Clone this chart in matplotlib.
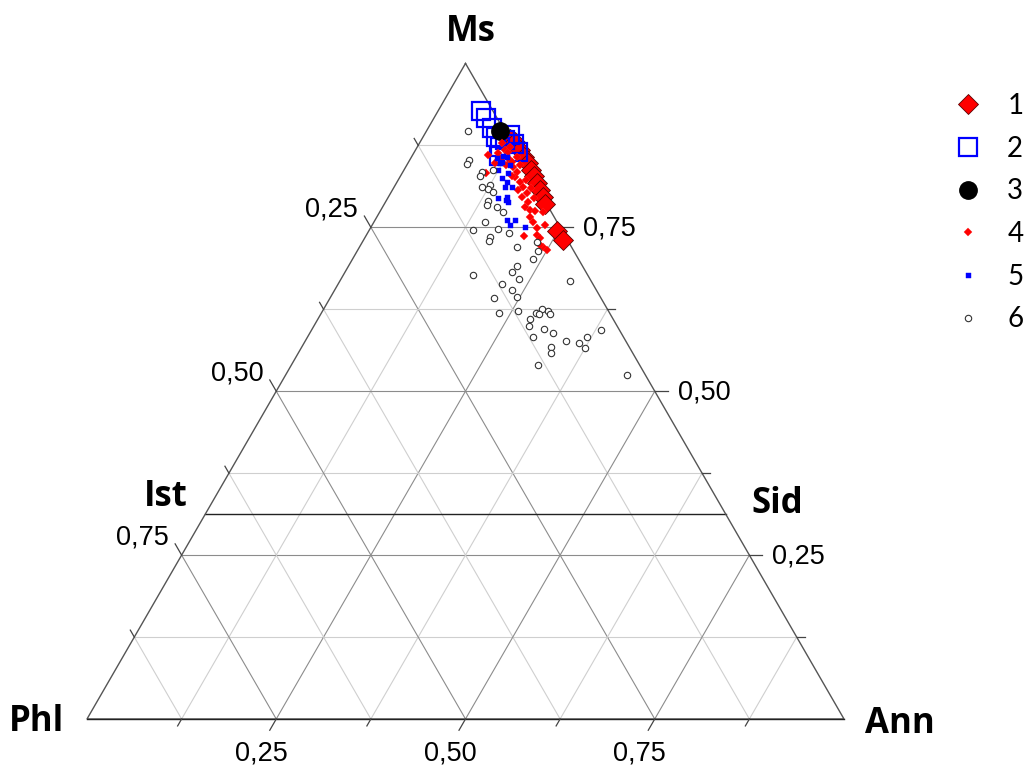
import numpy as np
import matplotlib.pyplot as plt

# fractions: Ms (top apex) and Ann (bottom right apex); Phl = 1 - Ms - Ann
ms1 = [0.885, 0.880, 0.868, 0.857, 0.848, 0.837, 0.828, 0.818, 0.807, 0.796, 0.786, 0.744, 0.731]
ann1 = [0.116, 0.125, 0.138, 0.149, 0.159, 0.168, 0.176, 0.185, 0.195, 0.204, 0.212, 0.249, 0.263]

ms2 = [0.927, 0.917, 0.901, 0.888, 0.872, 0.883, 0.891, 0.877, 0.865, 0.859]
ann2 = [0.057, 0.069, 0.085, 0.096, 0.110, 0.111, 0.113, 0.126, 0.137, 0.115]

ms3 = [0.897]
ann3 = [0.097]

ms4 = [0.860, 0.833, 0.856, 0.868, 0.853, 0.842, 0.834, 0.819, 0.811, 0.802, 0.789,
       0.776, 0.758, 0.737, 0.738, 0.734, 0.720, 0.715, 0.754, 0.827, 0.807, 0.796,
       0.781, 0.766, 0.775, 0.773, 0.723, 0.879, 0.865, 0.850, 0.857, 0.863, 0.872,
       0.845, 0.828, 0.822, 0.810, 0.795, 0.749, 0.845, 0.848]
ann4 = [0.100, 0.111, 0.120, 0.118, 0.132, 0.142, 0.151, 0.162, 0.170, 0.180, 0.188,
        0.197, 0.210, 0.209, 0.225, 0.231, 0.242, 0.250, 0.228, 0.152, 0.166, 0.177,
        0.188, 0.202, 0.204, 0.216, 0.237, 0.109, 0.124, 0.136, 0.140, 0.111, 0.123,
        0.131, 0.147, 0.169, 0.182, 0.193, 0.220, 0.150, 0.115]

ms5 = [0.837, 0.825, 0.819, 0.811, 0.811, 0.796, 0.789, 0.761, 0.754, 0.761,
       0.750, 0.850, 0.857, 0.845, 0.856, 0.795, 0.792, 0.833, 0.859, 0.848]
ann5 = [0.125, 0.136, 0.145, 0.147, 0.156, 0.157, 0.162, 0.174, 0.182, 0.185,
        0.204, 0.123, 0.126, 0.136, 0.114, 0.145, 0.158, 0.140, 0.120, 0.122]

ms6 = [0.897, 0.853, 0.847, 0.834, 0.837, 0.828, 0.811, 0.815, 0.808, 0.804, 0.790,
       0.784, 0.781, 0.773, 0.758, 0.746, 0.747, 0.741, 0.735, 0.729, 0.720, 0.728,
       0.714, 0.702, 0.691, 0.682, 0.671, 0.677, 0.664, 0.654, 0.644, 0.642, 0.668,
       0.619, 0.622, 0.619, 0.625, 0.622, 0.618, 0.618, 0.610, 0.599, 0.595, 0.589,
       0.583, 0.577, 0.574, 0.583, 0.566, 0.567, 0.558, 0.593, 0.540, 0.525]
ann6 = [0.055, 0.078, 0.079, 0.105, 0.118, 0.105, 0.116, 0.125, 0.126, 0.134, 0.135,
        0.136, 0.151, 0.163, 0.147, 0.137, 0.170, 0.187, 0.165, 0.166, 0.208, 0.230,
        0.239, 0.238, 0.223, 0.220, 0.235, 0.171, 0.216, 0.234, 0.246, 0.217, 0.304,
        0.235, 0.258, 0.284, 0.289, 0.298, 0.303, 0.288, 0.280, 0.285, 0.306, 0.321,
        0.298, 0.344, 0.363, 0.369, 0.375, 0.330, 0.334, 0.383, 0.326, 0.451]

ms_ist_sid = 0.3125
ticks = [0.125, 0.25, 0.375, 0.5, 0.625, 0.75, 0.875]
major = [0.25, 0.5, 0.75]
tick_text = {0.25: '0,25', 0.5: '0,50', 0.75: '0,75'}

H = np.sqrt(3) / 2
PX = 1 / 757.0  # one pixel in data units


def to_xy(ms, ann):
    ms = np.asarray(ms, dtype=float)
    ann = np.asarray(ann, dtype=float)
    return ann + ms / 2, ms * H


fig = plt.figure(figsize=(10.32, 7.71), dpi=100)
ax = fig.add_axes([0, 0, 1, 1])
ax.set_xlim(-87 * PX, (1032 - 87) * PX)
ax.set_ylim(-(771 - 719) * PX, 719 * PX)
ax.axis('off')

# grid
for v in ticks:
    col = '#8c8c8c' if v in major else '#cfcfcf'
    # Ms constant
    x, y = to_xy([v, v], [0, 1 - v])
    ax.plot(x, y, color=col, lw=0.8, zorder=1)
    # Ann constant
    x, y = to_xy([0, 1 - v], [v, v])
    ax.plot(x, y, color=col, lw=0.8, zorder=1)
    # Phl constant
    x, y = to_xy([0, 1 - v], [1 - v, 0])
    ax.plot(x, y, color=col, lw=0.8, zorder=1)

# Ist - Sid line
x, y = to_xy([ms_ist_sid, ms_ist_sid], [0, 1 - ms_ist_sid])
ax.plot(x, y, color='#222222', lw=1.0, zorder=2)

# triangle
x, y = to_xy([1, 0, 0, 1], [0, 0, 1, 0])
ax.plot(x, y, color='#555555', lw=1.0, zorder=2, solid_joinstyle='miter')
x, y = to_xy([0, 0], [0, 1])
ax.plot(x, y, color='#222222', lw=1.0, zorder=2)

# ticks and tick labels
lab_kw = dict(fontsize=19.5, family='Liberation Sans', color='black')
for v in ticks:
    L = 13 * PX if v in major else 8 * PX
    # right edge: Ms
    x0, y0 = to_xy(v, 1 - v)
    ax.plot([x0, x0 + L], [y0, y0], color='#444444', lw=0.9, zorder=2)
    # left edge: Phl
    x0, y0 = to_xy(1 - v, 0)
    ax.plot([x0, x0 - 0.5 * L], [y0, y0 + H * L], color='#444444', lw=0.9, zorder=2)
    # bottom edge: Ann
    x0, y0 = to_xy(0, v)
    ax.plot([x0, x0 - 0.5 * L], [y0, y0 - H * L], color='#444444', lw=0.9, zorder=2)
    if v in major:
        x0, y0 = to_xy(v, 1 - v)
        ax.text(x0 + 23 * PX, y0 - 1 * PX, tick_text[v], ha='left', va='center', **lab_kw)
        x0, y0 = to_xy(1 - v, 0)
        ax.text(x0 - 13 * PX, y0 + 18 * PX, tick_text[v], ha='right', va='center', **lab_kw)
        x0, y0 = to_xy(0, v)
        ax.text(x0 - 15 * PX, y0 - 34 * PX, tick_text[v], ha='center', va='center', **lab_kw)

# corner and line labels
name_kw = dict(fontsize=25, family='Open Sans', fontweight='bold', color='black',
               ha='center', va='center')
x0, y0 = to_xy(1, 0)
ax.text(x0 + 5 * PX, y0 + 31 * PX, 'Ms', **name_kw)
x0, y0 = to_xy(0, 0)
ax.text(x0 - 50 * PX, y0 - 3 * PX, 'Phl', **name_kw)
x0, y0 = to_xy(0, 1)
ax.text(x0 + 56 * PX, y0 - 5 * PX, 'Ann', **name_kw)
x0, y0 = to_xy(ms_ist_sid, 0)
ax.text(x0 - 40 * PX, y0 + 17 * PX, 'Ist', **name_kw)
x0, y0 = to_xy(ms_ist_sid, 1 - ms_ist_sid)
ax.text(x0 + 52 * PX, y0 + 10 * PX, 'Sid', **name_kw)

# data
h = []
x, y = to_xy(ms1, ann1)
h += ax.plot(x, y, 'D', ms=10.5, mfc='#ff0000', mec='#5a0000', mew=0.6, ls='none', zorder=3)
x, y = to_xy(ms2, ann2)
h += ax.plot(x, y, 's', ms=13.5, mfc='none', mec='#0000ff', mew=1.6, ls='none', zorder=4)
x, y = to_xy(ms3, ann3)
h += ax.plot(x, y, 'o', ms=12.5, mfc='black', mec='black', ls='none', zorder=5)
x, y = to_xy(ms4, ann4)
h += ax.plot(x, y, 'D', ms=4.2, mfc='#ff0000', mec='#ff2020', mew=0.3, ls='none', zorder=6)
x, y = to_xy(ms5, ann5)
h += ax.plot(x, y, 's', ms=3.6, mfc='#0000ff', mec='#0000ff', mew=0.3, ls='none', zorder=7)
x, y = to_xy(ms6, ann6)
h += ax.plot(x, y, 'o', ms=4.6, mfc='white', mec='#333333', mew=0.8, ls='none', zorder=8)

leg = ax.legend(h, ['1', '2', '3', '4', '5', '6'], loc='upper left',
                bbox_to_anchor=(935 / 1032, 1 - 82 / 771), frameon=False,
                prop={'family': 'Lato', 'size': 20}, handletextpad=0.6,
                labelspacing=0.6, handlelength=1.6, borderaxespad=0)

fig.savefig('out.png', dpi=100)
